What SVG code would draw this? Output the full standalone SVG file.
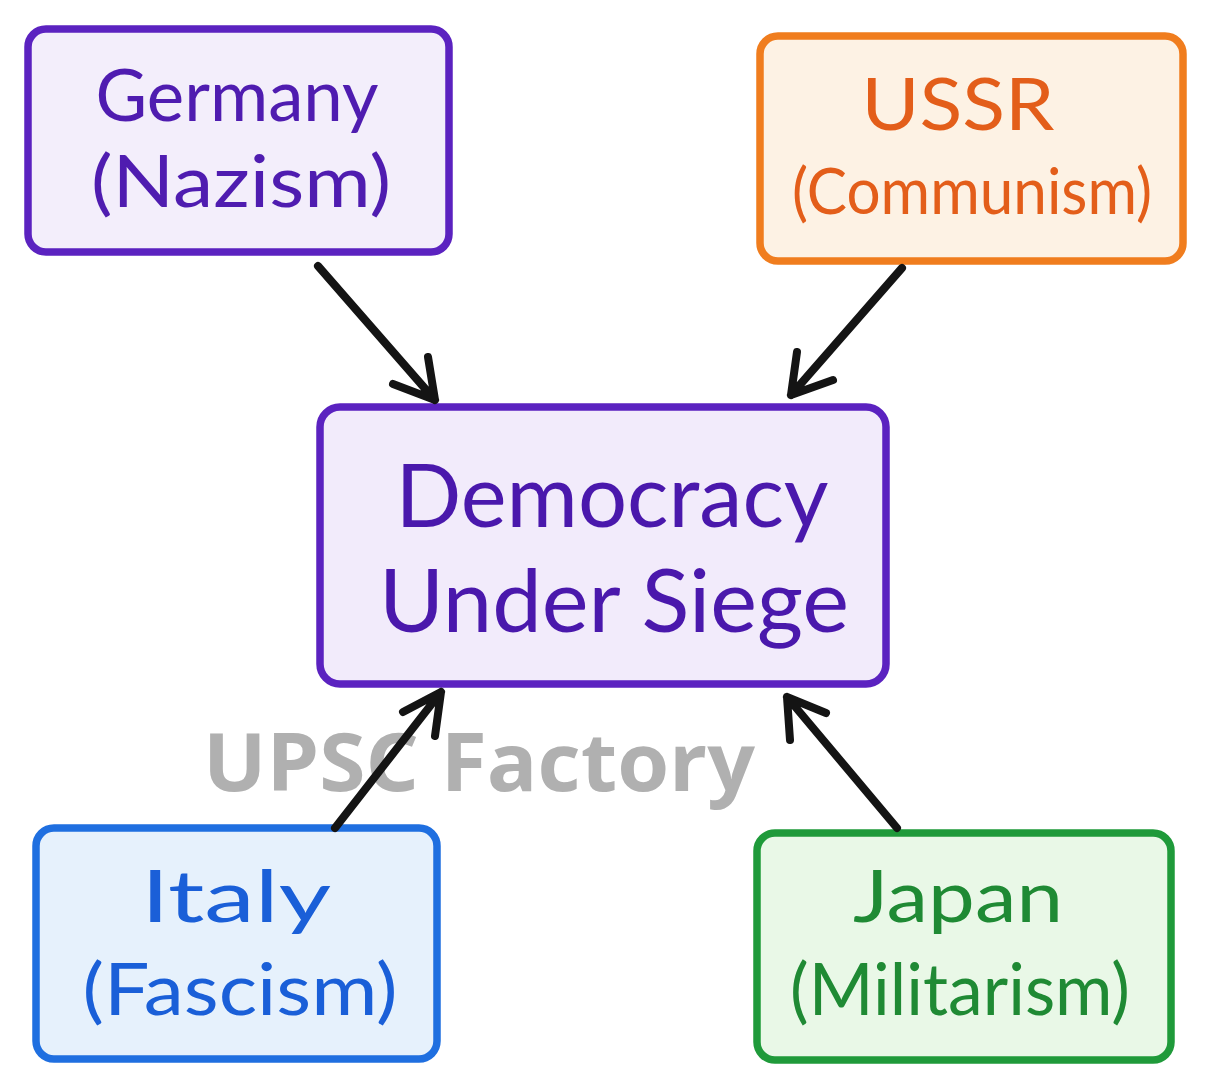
<svg xmlns="http://www.w3.org/2000/svg" width="1207" height="1086" viewBox="0 0 1207 1086">
<style>
.box{stroke-width:7.5;stroke-linejoin:round}
.lbl{font-family:Lato,"Noto Sans",sans-serif;font-size:72px;text-anchor:middle}
.big{font-size:88px}
.arr{fill:none;stroke:#141414;stroke-width:8;stroke-linecap:round;stroke-linejoin:round}
.wm{font-family:"Open Sans","Noto Sans",sans-serif;font-weight:700;font-size:80px;fill:#b0b0b0}
</style>
<rect width="1207" height="1086" fill="#ffffff"/>
<g id="germany">
<rect class="box" x="28" y="29" width="421" height="223" rx="18" fill="#f3eefb" stroke="#5b22c0"/>
<text class="lbl" x="237" y="121" fill="#4f1cb0" textLength="283" lengthAdjust="spacingAndGlyphs">Germany</text>
<text class="lbl" x="241" y="207" fill="#4f1cb0" textLength="300" lengthAdjust="spacingAndGlyphs">(Nazism)</text>
</g>
<g id="ussr">
<rect class="box" x="760" y="36" width="423" height="225" rx="18" fill="#fdf2e4" stroke="#f07d1e"/>
<text class="lbl" x="958" y="130" fill="#e35e1a" textLength="193" lengthAdjust="spacingAndGlyphs">USSR</text>
<text class="lbl" x="972" y="214" fill="#e35e1a" style="font-size:63px" textLength="360" lengthAdjust="spacingAndGlyphs">(Communism)</text>
</g>
<g id="center">
<rect class="box" x="320" y="407" width="566" height="277" rx="20" fill="#f2ebfb" stroke="#5b22c0"/>
<text class="lbl big" x="612" y="527" fill="#4a18ac" textLength="433" lengthAdjust="spacingAndGlyphs">Democracy</text>
<text class="lbl big" x="614" y="632" fill="#4a18ac" textLength="470" lengthAdjust="spacingAndGlyphs">Under Siege</text>
</g>
<g id="italy">
<rect class="box" x="36" y="828" width="401" height="231" rx="18" fill="#e6f1fc" stroke="#1f6fe0"/>
<text class="lbl" x="236" y="922" fill="#1a5fd8" textLength="190" lengthAdjust="spacingAndGlyphs">Italy</text>
<text class="lbl" x="240" y="1015" fill="#1a5fd8" textLength="315" lengthAdjust="spacingAndGlyphs">(Fascism)</text>
</g>
<g id="japan">
<rect class="box" x="757" y="833" width="414" height="227" rx="18" fill="#e9f8e7" stroke="#1f9a3a"/>
<text class="lbl" x="958" y="922" fill="#1f8a34" textLength="210" lengthAdjust="spacingAndGlyphs">Japan</text>
<text class="lbl" x="960" y="1015" fill="#1f8a34" textLength="340" lengthAdjust="spacingAndGlyphs">(Militarism)</text>
</g>
<text class="wm" x="203" y="791" textLength="552" lengthAdjust="spacingAndGlyphs">UPSC Factory</text>
<g id="connectors">
<path class="arr" d="M318,266 L435,400 M428,357 L435,400 L393,384"/>
<path class="arr" d="M902,268 L791,395 M797,352 L791,395 L833,380"/>
<path class="arr" d="M335,828 L441,692 M403,712 L441,692 L435,736"/>
<path class="arr" d="M897,828 L787,697 M790,740 L787,697 L826,713"/>
</g>
</svg>
